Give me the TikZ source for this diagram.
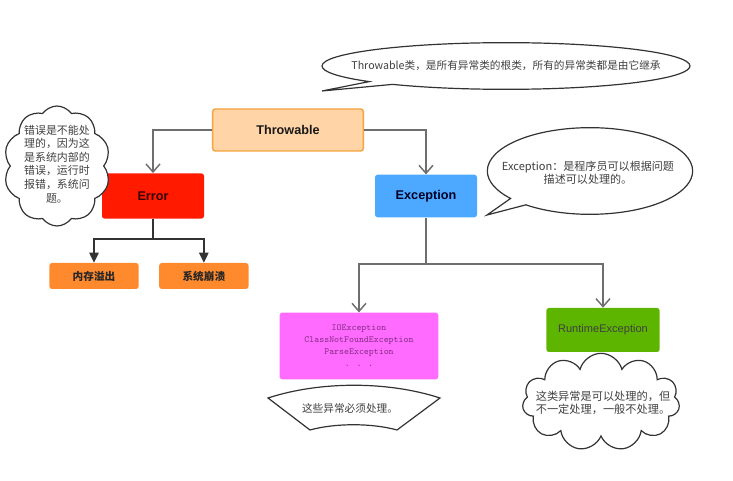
\documentclass[tikz,border=0pt]{standalone}
\usepackage{fontspec}
\setmainfont{Liberation Sans}
\newfontfamily\cjk{Noto Sans CJK SC}
\usetikzlibrary{arrows.meta,positioning,shapes.callouts,shapes.symbols}

\definecolor{throwfill}{HTML}{FFD4A6}
\definecolor{throwline}{HTML}{F7A33C}
\definecolor{errred}{HTML}{FF1A00}
\definecolor{excblue}{HTML}{4DA9FF}
\definecolor{leaforange}{HTML}{FF8A2E}
\definecolor{chkpink}{HTML}{FF6BFF}
\definecolor{chktext}{HTML}{8A2E8A}
\definecolor{rtgreen}{HTML}{5DB500}
\definecolor{linegray}{HTML}{6E6E6E}
\definecolor{notegray}{HTML}{333333}

\begin{document}
\begin{tikzpicture}[
  x=0.75pt, y=-0.75pt,
  every node/.style={inner sep=2pt, align=center},
  classbox/.style={rectangle, rounded corners=2pt, font=\fontsize{9.5}{11}\selectfont\bfseries},
  leafbox/.style={rectangle, rounded corners=2pt, fill=leaforange, minimum width=67pt, minimum height=19.5pt, font=\cjk\bfseries\fontsize{8}{10}\selectfont, text=black!85},
  notebox/.style={draw=notegray, line width=0.9pt, fill=white},
  notetext/.style={font=\cjk\fontsize{8.4}{10.2}\selectfont, text=black!75},
  inhline/.style={draw=linegray, line width=1.1pt, -{Straight Barb[length=6pt,width=10.5pt]}},
  darkarrow/.style={draw=black!80, line width=1.1pt, -{Triangle[length=7.5pt,width=7pt]}}
]
\useasboundingbox (0,0) rectangle (733,481);

% --- Class boxes ---
\node[classbox, draw=throwline, line width=1.1pt, fill=throwfill, minimum width=113pt, minimum height=31.5pt, text=black!90] (thr) at (288,130) {Throwable};
\node[classbox, fill=errred, minimum width=76.5pt, minimum height=34pt, text=black!80!red] (err) at (153,196) {Error};
\node[classbox, fill=excblue, minimum width=76.5pt, minimum height=32pt, text=black!85!blue] (exc) at (426,196) {Exception};

% --- Leaves ---
\node[leafbox] (mem) at (94,276) {内存溢出};
\node[leafbox, right=15pt of mem] (crash) {系统崩溃};

\node[rectangle, rounded corners=2pt, fill=chkpink, minimum width=119pt, minimum height=50pt, font=\ttfamily\fontsize{7}{9}\selectfont, text=chktext] (chk) at (359,346) {IOException\\ClassNotFoundException\\ParseException\\. . .};
\node[rectangle, rounded corners=2pt, fill=rtgreen, minimum width=85pt, minimum height=33pt, font=\fontsize{8.3}{10}\selectfont, text=black!75] (rt) at (603,330) {RuntimeException};

% --- Connectors ---
\draw[inhline] (thr.west) -| (err);
\draw[inhline] (thr.east) -| (exc);

\coordinate (errfork) at (153,239);
\draw[darkarrow] (err) -- (errfork) -| (mem);
\draw[darkarrow] (errfork) -| (crash);

\coordinate (excfork) at (426,264);
\draw[inhline] (exc) -- (excfork) -| (chk);
\draw[inhline] (excfork) -| (rt);

% --- Notes ---
\node[notebox, ellipse callout, minimum width=276pt, minimum height=35pt, inner sep=0pt, callout absolute pointer={(322,91)}, callout pointer arc=10] (rootnote) at (506,66) {};
\node[notetext, font=\cjk\fontsize{8}{10}\selectfont] (roottext) at (rootnote.center) {Throwable类，是所有异常类的根类，所有的异常类都是由它继承};

\node[notebox, ellipse callout, minimum width=154pt, minimum height=65pt, inner sep=0pt, callout absolute pointer={(487,215)}, callout pointer arc=12] (excnote) at (590,171) {};
\node[notetext, font=\cjk\fontsize{8.3}{10}\selectfont] (exctext) at (588,173) {Exception：是程序员可以根据问题\\描述可以处理的。};

\node[notebox, cloud, cloud puffs=10, cloud puff arc=110, cloud ignores aspect, minimum width=80pt, minimum height=90pt, inner sep=0pt] (errnote) at (57,166) {};
\node[notetext, font=\cjk\fontsize{8.2}{10.2}\selectfont] (errtext) at (57,164) {错误是不能处\\理的，因为这\\是系统内部的\\错误，运行时\\报错，系统问\\题。};

\node[notebox, cloud, cloud puffs=11, cloud ignores aspect, minimum width=118pt, minimum height=73pt, inner sep=0pt] (rtnote) at (601,402) {};
\node[notetext] (rttext) at (603,403) {这类异常是可以处理的，但\\不一定处理，一般不处理。};

\draw[notebox] (268,398) .. controls (320,381) and (388,381) .. (440,398) -- (397,430) .. controls (372,423) and (335,423) .. (310,430) -- cycle;
\node[notetext, font=\cjk\fontsize{8}{10}\selectfont] (chktext) at (350,408) {这些异常必须处理。};

\end{tikzpicture}
\end{document}
